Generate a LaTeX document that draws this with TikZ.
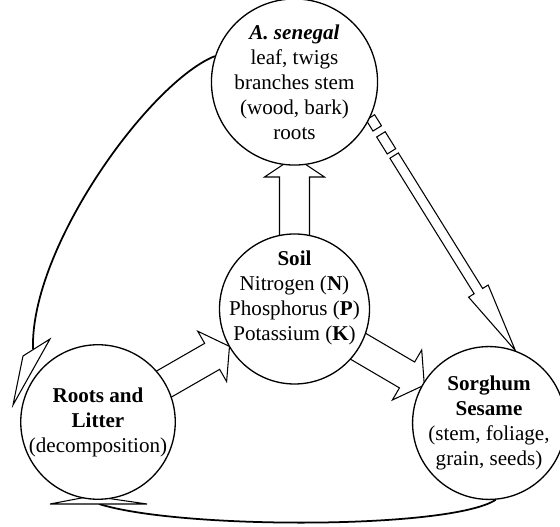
\documentclass[tikz,border=0pt]{standalone}
\usepackage{fontspec}
\setmainfont{Liberation Serif}
\usetikzlibrary{calc,backgrounds}

% hollow block arrow: [style]{tail}{tip}{half shaft}{half head}{head length}
\newcommand{\hollowarrow}[6][]{%
  \coordinate (hb) at ($(#3)!#6!(#2)$);
  \draw[blockarrow,#1] ($(#2)!#4!90:(#3)$) -- ($(hb)!#4!90:(#3)$)
    -- ($(hb)!#5!90:(#3)$) -- (#3) -- ($(hb)!#5!-90:(#3)$)
    -- ($(hb)!#4!-90:(#3)$) -- ($(#2)!#4!-90:(#3)$) -- cycle;}
% one hollow dash of a shaft: {from}{to}{half width}
\newcommand{\shaftbox}[3]{%
  \draw[blockarrow] ($(#1)!#3!90:(#2)$) -- ($(#2)!#3!-90:(#1)$)
    -- ($(#2)!#3!90:(#1)$) -- ($(#1)!#3!-90:(#2)$) -- cycle;}

\begin{document}
\begin{tikzpicture}[
  x=1cm,y=1cm,
  font=\fontsize{12}{14.2}\selectfont,
  bubble/.style={circle, draw, fill=white, line width=.75pt,
                 minimum size=3cm, inner sep=0pt, align=center},
  blockarrow/.style={draw, fill=white, line width=.6pt, line join=miter},
  litterflow/.style={line width=1pt},
  headtip/.style={draw, fill=white, line width=.6pt, line join=miter},
]
  \useasboundingbox (0,0) rectangle (11.2,10.54);

  % the four pools
  \node[bubble] (senegal) at (5.89,8.90)
    {\textbf{\textit{A. senegal}}\\leaf, twigs\\branches stem\\(wood, bark)\\roots};
  \node[bubble] (soil) at (5.89,4.36) {};
  \node[align=center] (soiltext) at ($(soil.center)+(0,.22)$)
    {\textbf{Soil}\\Nitrogen (\textbf{N})\\Phosphorus (\textbf{P})\\Potassium (\textbf{K})};
  \node[bubble] (roots) at (1.96,2.10)
    {\textbf{Roots and}\\\textbf{Litter}\\(decomposition)};
  \node[bubble] (sorghum) at (9.78,2.08)
    {\textbf{Sorghum}\\\textbf{Sesame}\\(stem, foliage,\\grain, seeds)};

  \begin{pgfonlayer}{background}
    % nutrient flows through the soil
    \coordinate (r1) at ($(roots.center)!1.3cm!(soil.center)$);
    \coordinate (s1) at ($(soil.center)!1.5cm!(roots.center)$);
    \hollowarrow{r1}{s1}{.3cm}{.58cm}{.4cm}
    \coordinate (s2) at ($(soil.center)!1.3cm!(senegal.center)$);
    \coordinate (a1) at ($(senegal.center)!1.5cm!(soil.center)$);
    \hollowarrow{s2}{a1}{.3cm}{.6cm}{.4cm}
    \coordinate (s3) at ($(soil.center)!1.3cm!(sorghum.center)$);
    \coordinate (g1) at ($(sorghum.center)!1.5cm!(soil.center)$);
    \hollowarrow{s3}{g1}{.3cm}{.58cm}{.4cm}

    % broken thin arrow from the tree to the crops
    \coordinate (dA) at (senegal.-25);
    \coordinate (dB) at (sorghum.70);
    \coordinate (d1) at ($(dA)!.26cm!(dB)$);
    \coordinate (d2) at ($(dA)!.40cm!(dB)$);
    \coordinate (d3) at ($(dA)!.80cm!(dB)$);
    \coordinate (d4) at ($(dA)!.90cm!(dB)$);
    \shaftbox{dA}{d1}{.1cm}
    \shaftbox{d2}{d3}{.1cm}
    \hollowarrow{d4}{dB}{.1cm}{.23cm}{1.4cm}

    % litter fall back to the roots
    \coordinate (lf) at (0.66,3.56);
    \draw[litterflow] (senegal.162) .. controls (3.0,8.9) and (0.6,5.6) .. (lf);
    \draw[headtip] (1.00,3.76) -- (0.26,2.44) -- (0.46,3.42) -- cycle;

    % crop residues back to the roots
    \coordinate (cr) at (1.98,0.46);
    \draw[litterflow] (sorghum.-85) .. controls (9.0,-0.05) and (3.6,-0.05) .. (cr);
    \draw[headtip] (1.00,0.46) -- (1.84,0.62) -- (2.94,0.46) -- cycle;
  \end{pgfonlayer}
\end{tikzpicture}
\end{document}
